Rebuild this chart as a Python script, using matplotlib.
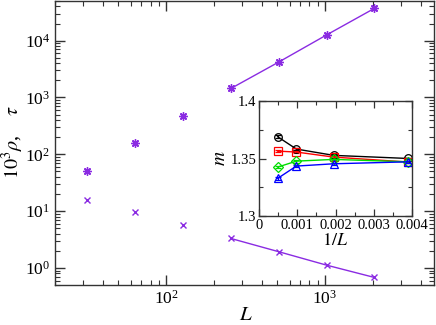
import matplotlib
matplotlib.use("Agg")
import matplotlib.pyplot as plt
from matplotlib.ticker import LogLocator, NullFormatter, MultipleLocator, FixedLocator, FixedFormatter
import numpy as np

plt.rcParams['font.family'] = ['Liberation Serif', 'DejaVu Serif']
plt.rcParams['mathtext.fontset'] = 'stix'

# main data
L = [32, 64, 128, 256, 512, 1024, 2048]
tau = [51, 160, 480, 1440, 4200, 12600, 37000]
rho = [16, 9.6, 5.6, 3.3, 1.93, 1.12, 0.68]

# inset data
invL = [1/2048, 1/1024, 1/512, 1/256]
m_black = [1.3690, 1.3583, 1.3528, 1.3501]
m_red = [1.3565, 1.3557, 1.3513, 1.3470]
m_green = [1.3426, 1.3478, 1.3493, 1.3472]
m_blue = [1.3328, 1.3435, 1.3455, 1.3472]
err_black = [0.0012, 0.0010, 0.0008, 0.0006]
err_red = [0.0008, 0.0012, 0.0008, 0.0006]
err_green = [0.0008, 0.0014, 0.0008, 0.0006]
err_blue = [0.0010, 0.0012, 0.0008, 0.0006]

purple = '#8a2be2'
spine_c = '#333333'

fig = plt.figure(figsize=(4.36, 3.25), dpi=100)
ax = fig.add_axes([0.126, 0.123, 0.869, 0.874])
ax.set_xscale('log')
ax.set_yscale('log')

# points: first three unconnected, last four connected
ax.plot(L[:3], tau[:3], ls='none', marker=(8, 2, 0), ms=6, mew=1.0, color=purple)
ax.plot(L[3:], tau[3:], ls='-', lw=1.0, marker=(8, 2, 0), ms=6, mew=1.0, color=purple)
ax.plot(L[:3], rho[:3], ls='none', marker='x', ms=4.5, mew=1.0, color=purple)
ax.plot(L[3:], rho[3:], ls='-', lw=1.0, marker='x', ms=4.5, mew=1.0, color=purple)

ax.set_xlim(20, 4850)
ax.set_ylim(0.5, 5e4)
ax.xaxis.set_major_locator(LogLocator(base=10, numticks=10))
ax.yaxis.set_major_locator(LogLocator(base=10, numticks=10))
ax.xaxis.set_minor_locator(LogLocator(base=10, subs=np.arange(2, 10), numticks=20))
ax.yaxis.set_minor_locator(LogLocator(base=10, subs=np.arange(2, 10), numticks=20))
ax.xaxis.set_minor_formatter(NullFormatter())
ax.yaxis.set_minor_formatter(NullFormatter())
ax.tick_params(which='both', direction='in', top=True, right=True, color=spine_c, labelsize=12.5)
ax.tick_params(which='major', length=7, width=1.0)
ax.tick_params(which='minor', length=3.5, width=0.8)
for s in ax.spines.values():
    s.set_color(spine_c)
    s.set_linewidth(1.0)

# axis titles placed in figure coordinates
fig.text(0.564, 0.016, r'$L$', fontsize=15, ha='center', va='baseline')
fig.text(0.030, 0.565, r'$10^3\rho$,    $\tau$', fontsize=14.5, rotation=90,
         ha='center', va='center')

# inset
axi = fig.add_axes([0.594, 0.335, 0.351, 0.354])
kw = dict(lw=1.0, ms=5.5, mew=0.9, capsize=2.5, elinewidth=0.9, mfc='none')
axi.errorbar(invL, m_black, yerr=err_black, color='black', marker='o', **kw)
axi.errorbar(invL, m_red, yerr=err_red, color='red', marker='s', **kw)
axi.errorbar(invL, m_green, yerr=err_green, color='#00dd00', marker='D', **kw)
axi.errorbar(invL, m_blue, yerr=err_blue, color='blue', marker='^', **kw)
axi.set_xlim(0, 0.004)
axi.set_ylim(1.3, 1.4)
axi.xaxis.set_major_locator(FixedLocator([0, 0.001, 0.002, 0.003, 0.004]))
axi.xaxis.set_major_formatter(FixedFormatter(['0', '0.001', '0.002', '0.003', '0.004']))
axi.xaxis.set_minor_locator(MultipleLocator(0.0005))
axi.yaxis.set_major_locator(FixedLocator([1.3, 1.35, 1.4]))
axi.yaxis.set_major_formatter(FixedFormatter(['1.3', '1.35', '1.4']))
axi.yaxis.set_minor_locator(MultipleLocator(0.025))
axi.tick_params(which='both', direction='in', top=True, right=True, color=spine_c, labelsize=10.5, pad=2)
axi.tick_params(which='major', length=5, width=0.9)
axi.tick_params(which='minor', length=3, width=0.8)
for s in axi.spines.values():
    s.set_color(spine_c)
    s.set_linewidth(1.0)
axi.set_xlabel(r'$1/L$', fontsize=13, labelpad=0)
axi.set_ylabel(r'$m$', fontsize=14, labelpad=1)

fig.savefig('out.png', dpi=100)
